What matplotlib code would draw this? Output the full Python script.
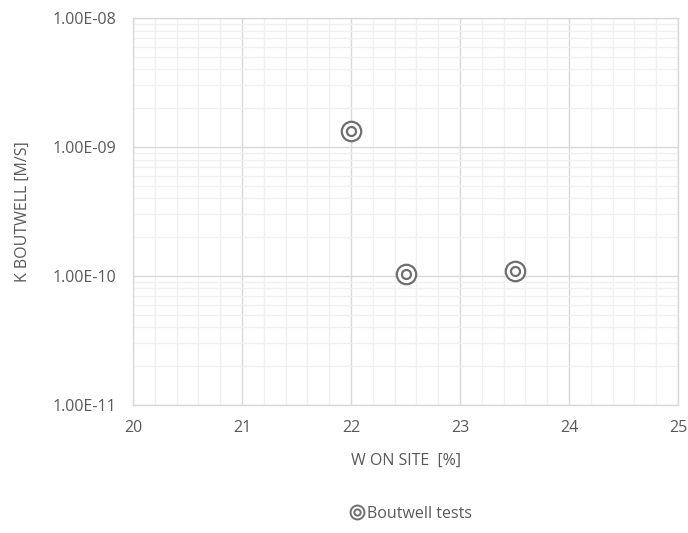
import matplotlib
matplotlib.use('Agg')
import matplotlib.pyplot as plt
from matplotlib.lines import Line2D
from matplotlib.legend_handler import HandlerTuple
from matplotlib.ticker import FixedLocator, LogLocator, NullFormatter, FuncFormatter
import numpy as np

plt.rcParams['font.family'] = ['Open Sans', 'DejaVu Sans']

w_site = [22.0, 22.5, 23.5]
k_boutwell = [1.33e-9, 1.04e-10, 1.09e-10]

y_ticks = [1e-11, 1e-10, 1e-9, 1e-8]
x_ticks = [20, 21, 22, 23, 24, 25]

mark_col = '#6f6f6f'
text_col = '#595959'

fig = plt.figure(figsize=(6.88, 5.33), dpi=100)
ax = fig.add_axes([0.1933, 0.2402, 0.7922, 0.726])

ax.set_yscale('log')
ax.set_xlim(20, 25)
ax.set_ylim(1e-11, 1e-8)

ax.set_xticks(x_ticks)
ax.xaxis.set_minor_locator(FixedLocator(np.arange(20, 25.01, 0.2)))
ax.set_yticks(y_ticks)
ax.yaxis.set_minor_locator(LogLocator(base=10, subs=np.arange(2, 10)))
ax.yaxis.set_minor_formatter(NullFormatter())
ax.yaxis.set_major_formatter(FuncFormatter(lambda v, p: f"{v:.2E}"))

ax.grid(which='major', color='#d9d9d9', linewidth=1.0, zorder=0)
ax.grid(which='minor', color='#f0f0f0', linewidth=1.0, zorder=0)
ax.set_axisbelow(True)

for s in ax.spines.values():
    s.set_color('#d9d9d9')
    s.set_linewidth(1.0)

ax.tick_params(which='both', length=0, colors=text_col, labelsize=11.5)
ax.tick_params(axis='x', pad=11)
ax.tick_params(axis='y', pad=12)

# double-ring markers
ax.plot(w_site, k_boutwell, 'o', ms=14, mfc='white', mec=mark_col, mew=1.6, zorder=3)
ax.plot(w_site, k_boutwell, 'o', ms=6.5, mfc='none', mec=mark_col, mew=1.6, zorder=4)

ax.set_xlabel('W ON SITE  [%]', fontsize=11.5, color=text_col, labelpad=12)
ax.set_ylabel('K BOUTWELL [M/S]', fontsize=11.5, color=text_col, labelpad=16)

outer = Line2D([], [], ls='none', marker='o', ms=10, mfc='white', mec=mark_col, mew=1.4)
inner = Line2D([], [], ls='none', marker='o', ms=4.5, mfc='none', mec=mark_col, mew=1.4)
fig.legend([(outer, inner)], ['Boutwell tests'],
           handler_map={tuple: HandlerTuple(ndivide=1)},
           loc='center', bbox_to_anchor=(0.597, 0.036), frameon=False,
           fontsize=11.5, labelcolor=text_col, handlelength=0.9, handletextpad=0.15)

fig.savefig('out.png', dpi=100, facecolor='white')
